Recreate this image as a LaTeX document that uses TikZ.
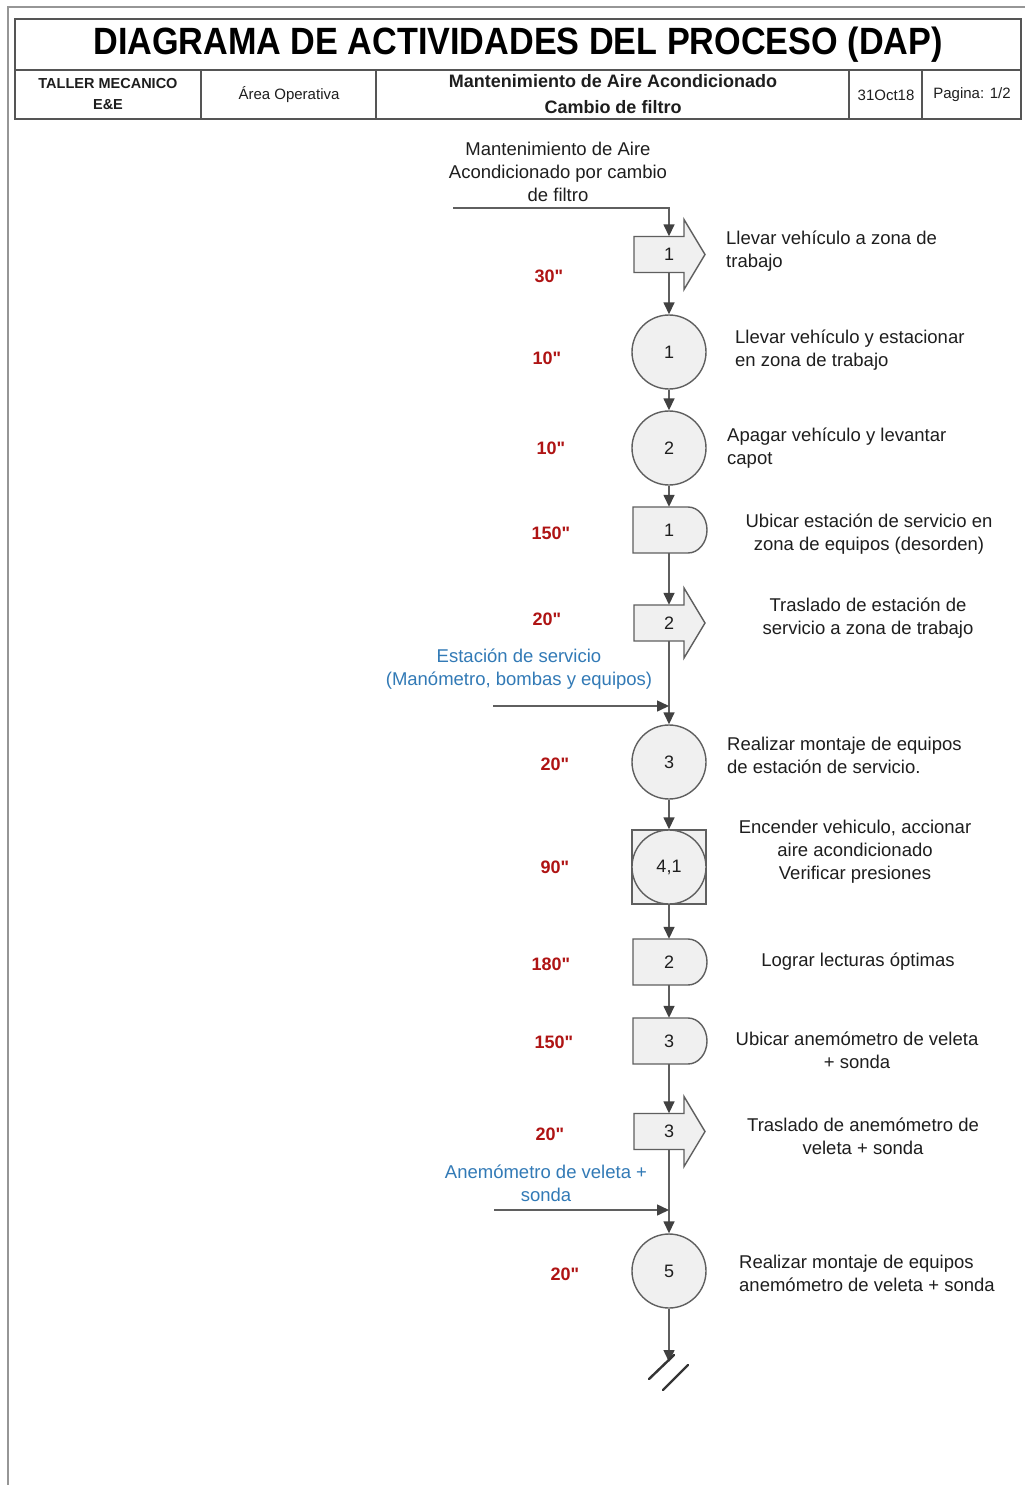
\documentclass[tikz,border=0pt]{standalone}
\usepackage{fontspec}
\setmainfont{Liberation Sans}[Ligatures=TeXOff]
\usetikzlibrary{arrows.meta,calc}

\definecolor{linegray}{RGB}{95,95,95}
\definecolor{tipgray}{RGB}{65,65,65}
\definecolor{shapefill}{RGB}{240,240,240}
\definecolor{timered}{RGB}{175,20,20}
\definecolor{noteblue}{RGB}{50,122,182}
\definecolor{framegray}{RGB}{150,150,150}
\definecolor{tablegray}{RGB}{85,85,85}
\definecolor{inkblack}{RGB}{30,30,30}

\newcommand\secmark{\symbol{34}}

\tikzset{
  flow/.style={draw=linegray, line width=1.5pt,
    -{Triangle[width=11pt,length=12pt,color=tipgray,fill=tipgray]}},
  outline/.style={draw=linegray, line width=1.4pt, fill=shapefill},
  opcircle/.style={circle, outline, minimum size=74pt, inner sep=0pt,
    font=\fontsize{18}{20}\selectfont, text=inkblack},
  holder/.style={rectangle, inner sep=0pt, font=\fontsize{18}{20}\selectfont, text=inkblack},
  desc/.style={inner sep=0pt, font=\fontsize{18.5}{23}\selectfont, text=inkblack},
  note/.style={desc, text=noteblue},
  timelbl/.style={inner sep=0pt, font=\bfseries\fontsize{18}{22}\selectfont, text=timered},
  headtxt/.style={inner sep=0pt, font=\fontsize{15}{21}\selectfont, text=inkblack, align=center},
}

% transport symbol: block arrow, centred on the main axis
\newcommand\transportsym[3]{%
  \path[outline] (634,#2-18) -- (684,#2-18) -- (684,#2-35) -- (705,#2)
    -- (684,#2+35) -- (684,#2+18) -- (634,#2+18) -- cycle;
  \node[holder, minimum width=70pt, minimum height=36pt] (#1) at (669,#2) {#3};}
% delay symbol: D shape
\newcommand\delaysym[3]{%
  \path[outline] (633,#2-23) -- (688,#2-23)
    arc[start angle=-90, end angle=90, x radius=19, y radius=23]
    -- (633,#2+23) -- cycle;
  \node[holder, minimum width=72pt, minimum height=46pt] (#1) at (669,#2) {#3};}

\begin{document}
\begin{tikzpicture}[x=1pt,y=-1pt]
\useasboundingbox (0,0) rectangle (1025,1485);
\fill[white] (0,0) rectangle (1025,1485);

% page frame
\draw[framegray, line width=1.5pt] (8,1485) -- (8,7) -- (1025,7);

% header table
\draw[tablegray, line width=1.4pt] (15,19) rectangle (1021,119);
\draw[tablegray, line width=1.4pt] (15,70) -- (1021,70);
\foreach \xx in {201,376,849,922}
  \draw[tablegray, line width=1.4pt] (\xx,70) -- (\xx,119);

\node[inner sep=0pt, xscale=0.9, font=\bfseries\fontsize{38}{40}\selectfont, text=black]
  (title) at (518,45) {DIAGRAMA DE ACTIVIDADES DEL PROCESO (DAP)};
\node[headtxt, font=\bfseries\fontsize{14.5}{21}\selectfont] (h1) at (108,94) {TALLER MECANICO\\E\&E};
\node[headtxt] (h2) at (289,95) {Área Operativa};
\node[headtxt, font=\bfseries\fontsize{18}{26}\selectfont] (h3) at (613,94)
  {Mantenimiento de Aire Acondicionado\\Cambio de filtro};
\node[headtxt] (h4) at (886,95) {31Oct18};
\node[headtxt] (h5) at (972,95) {Pagina: 1/2};

% symbols along the main axis
\transportsym{t1}{254.5}{1}
\node[opcircle] (c1) at (669,352) {1};
\node[opcircle] (c2) at (669,448) {2};
\delaysym{d1}{530}{1}
\transportsym{t2}{623}{2}
\node[opcircle] (c3) at (669,762) {3};
\node[rectangle, outline, minimum size=74pt, inner sep=0pt] (sq4) at (669,867) {};
\node[opcircle] (c4) at (669,867) {4,1};
\delaysym{d2}{962}{2}
\delaysym{d3}{1041}{3}
\transportsym{t3}{1131.5}{3}
\node[opcircle] (c5) at (669,1271) {5};

% inputs and end of page
\coordinate (s0) at (453,208);
\coordinate (in1) at (493,706);
\coordinate (in1e) at (669,706);
\coordinate (in2) at (494,1210);
\coordinate (in2e) at (669,1210);
\coordinate (cut) at (669,1362);

% connectors
\draw[flow] (s0) -| (t1.north);
\draw[flow] (t1.south) -- (c1.north);
\draw[flow] (c1.south) -- (c2.north);
\draw[flow] (c2.south) -- (d1.north);
\draw[flow] (d1.south) -- (t2.north);
\draw[flow] (t2.south) -- (c3.north);
\draw[flow] (in1) -- (in1e);
\draw[flow] (c3.south) -- (sq4.north);
\draw[flow] (sq4.south) -- (d2.north);
\draw[flow] (d2.south) -- (d3.north);
\draw[flow] (d3.south) -- (t3.north);
\draw[flow] (t3.south) -- (c5.north);
\draw[flow] (in2) -- (in2e);
\draw[flow] (c5.south) -- (cut);

% continuation mark
\draw[inkblack!90, line width=2.4pt, line cap=round] (649,1379) -- (674,1355);
\draw[inkblack!90, line width=2.4pt, line cap=round] (663,1390) -- (688,1365);

% labels
\node[desc, align=center] (lstart) at (558,172)
  {Mantenimiento de Aire\\Acondicionado por cambio\\de filtro};
\node[note, align=center] (lin1) at (519,669.5)
  {Estación de servicio\\(Manómetro, bombas y equipos)};
\node[note, align=center] (lin2) at (546,1183.5)
  {Anemómetro de veleta +\\sonda};

\node[desc, align=left, anchor=west] (a1) at (726,251) {Llevar vehículo a zona de\\trabajo};
\node[desc, align=left, anchor=west] (a2) at (735,350.5) {Llevar vehículo y estacionar\\en zona de trabajo};
\node[desc, align=left, anchor=west] (a3) at (727,448.5) {Apagar vehículo y levantar\\capot};
\node[desc, align=center] (a4) at (869,534.5) {Ubicar estación de servicio en\\zona de equipos (desorden)};
\node[desc, align=center] (a5) at (868,618.5) {Traslado de estación de\\servicio a zona de trabajo};
\node[desc, align=left, anchor=west] (a6) at (727,755.5) {Realizar montaje de equipos\\de estación de servicio.};
\node[desc, align=center] (a7) at (855,852) {Encender vehiculo, accionar\\aire acondicionado\\Verificar presiones};
\node[desc, align=center] (a8) at (858,962) {Lograr lecturas óptimas};
\node[desc, align=center] (a9) at (857,1050.5) {Ubicar anemómetro de veleta\\+ sonda};
\node[desc, align=center] (a10) at (863,1136.5) {Traslado de anemómetro de\\veleta + sonda};
\node[desc, align=left, anchor=west] (a11) at (739,1273.5) {Realizar montaje de equipos\\anemómetro de veleta + sonda};

% times
\node[timelbl] (tm1) at (549,276) {30\secmark};
\node[timelbl] (tm2) at (547,358) {10\secmark};
\node[timelbl] (tm3) at (551,448) {10\secmark};
\node[timelbl] (tm4) at (551,533) {150\secmark};
\node[timelbl] (tm5) at (547,619) {20\secmark};
\node[timelbl] (tm6) at (555,764) {20\secmark};
\node[timelbl] (tm7) at (555,867) {90\secmark};
\node[timelbl] (tm8) at (551,964) {180\secmark};
\node[timelbl] (tm9) at (554,1042) {150\secmark};
\node[timelbl] (tm10) at (550,1134) {20\secmark};
\node[timelbl] (tm11) at (565,1274) {20\secmark};
\end{tikzpicture}
\end{document}
